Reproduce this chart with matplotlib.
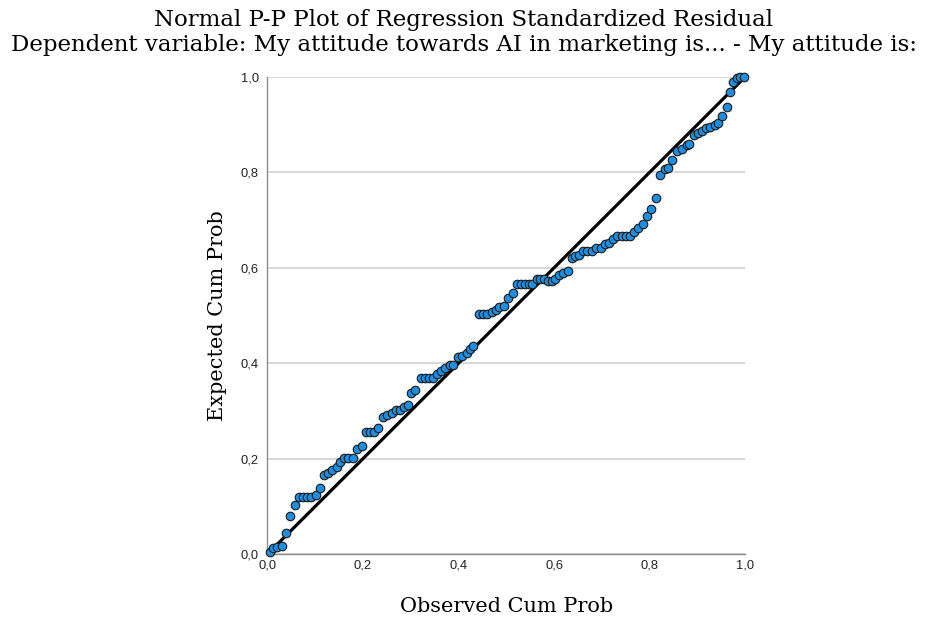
# -*- coding: utf-8 -*-
# Normal P-P plot of regression standardized residual

import matplotlib.pyplot as plt
from matplotlib.ticker import FuncFormatter

# ---------------------------------------------------------------
# DADOS

obs_cum_prob = [
    0.006, 0.013, 0.021, 0.031, 0.040, 0.048, 0.059, 0.067, 0.075, 0.084,
    0.092, 0.103, 0.111, 0.119, 0.128, 0.136, 0.146, 0.153, 0.161, 0.169,
    0.180, 0.188, 0.199, 0.207, 0.215, 0.224, 0.232, 0.243, 0.251, 0.262,
    0.270, 0.278, 0.287, 0.295,
    0.301, 0.310, 0.322, 0.331, 0.339, 0.347, 0.356, 0.364, 0.372, 0.383,
    0.389, 0.400, 0.408, 0.418, 0.425, 0.431, 0.444, 0.452, 0.460, 0.471,
    0.479, 0.485, 0.496, 0.504, 0.515, 0.523, 0.531, 0.540, 0.548, 0.554,
    0.565, 0.571, 0.579, 0.588, 0.596, 0.603, 0.611, 0.619, 0.630,
    0.638, 0.644, 0.653, 0.661, 0.669, 0.680, 0.688, 0.699, 0.707, 0.715,
    0.724, 0.732, 0.743, 0.751, 0.759, 0.768, 0.776, 0.787, 0.795, 0.803,
    0.814,
    0.822, 0.833, 0.839, 0.847, 0.858, 0.868, 0.879, 0.883, 0.893, 0.902,
    0.910, 0.918, 0.927, 0.937, 0.944, 0.952, 0.962, 0.969, 0.975, 0.983,
    0.990, 0.998,
]
exp_cum_prob = [
    0.004, 0.013, 0.015, 0.017, 0.044, 0.080, 0.103, 0.119, 0.119, 0.119,
    0.119, 0.124, 0.138, 0.166, 0.170, 0.176, 0.182, 0.193, 0.201, 0.201,
    0.201, 0.220, 0.226, 0.256, 0.256, 0.256, 0.264, 0.287, 0.291, 0.296,
    0.302, 0.302, 0.308, 0.312,
    0.338, 0.344, 0.369, 0.369, 0.369, 0.369, 0.377, 0.384, 0.390, 0.396,
    0.396, 0.413, 0.415, 0.421, 0.430, 0.436, 0.503, 0.503, 0.503, 0.507,
    0.512, 0.518, 0.520, 0.537, 0.547, 0.566, 0.566, 0.566, 0.566, 0.566,
    0.577, 0.577, 0.577, 0.572, 0.572, 0.577, 0.585, 0.589, 0.593,
    0.621, 0.625, 0.627, 0.635, 0.635, 0.635, 0.642, 0.642, 0.650, 0.652,
    0.660, 0.667, 0.667, 0.667, 0.667, 0.675, 0.683, 0.692, 0.709, 0.723,
    0.746,
    0.795, 0.807, 0.809, 0.826, 0.845, 0.849, 0.857, 0.860, 0.878, 0.883,
    0.887, 0.893, 0.895, 0.899, 0.904, 0.918, 0.937, 0.969, 0.990, 0.998,
    1.000, 1.000,
]
ref_line = [0.0, 1.0]
ticks = [0.0, 0.2, 0.4, 0.6, 0.8, 1.0]

title = ('Normal P-P Plot of Regression Standardized Residual\n'
         'Dependent variable: My attitude towards AI in marketing is... '
         '- My attitude is:')

# ---------------------------------------------------------------
# PLOT

def main():
    fig = plt.figure(figsize=(9.28, 6.2), dpi=100)
    ax = fig.add_axes([0.288, 0.106, 0.515, 0.77])

    serif = ['DejaVu Serif']

    ax.plot(ref_line, ref_line, color='black', lw=2.3, zorder=2,
            solid_capstyle='butt')
    ax.scatter(obs_cum_prob, exp_cum_prob, s=38, color='#1e8fe0',
               edgecolors='#1a1a1a', linewidths=0.8, zorder=3, clip_on=False)

    ax.set_xlim(0, 1)
    ax.set_ylim(0, 1)
    ax.set_xticks(ticks)
    ax.set_yticks(ticks)
    fmt = FuncFormatter(lambda v, _: f'{v:.1f}'.replace('.', ','))
    ax.xaxis.set_major_formatter(fmt)
    ax.yaxis.set_major_formatter(fmt)
    ax.tick_params(length=0, labelsize=9.3, labelcolor='#222222')
    ax.tick_params(axis='y', pad=6)
    ax.tick_params(axis='x', pad=4)
    for lbl in ax.get_xticklabels() + ax.get_yticklabels():
        lbl.set_family('Liberation Sans')

    ax.grid(axis='y', color='#d4d4d4', lw=1.3, zorder=0)
    ax.set_axisbelow(True)
    for side in ['top', 'right']:
        ax.spines[side].set_visible(False)
    for side in ['left', 'bottom']:
        ax.spines[side].set_color('#8c8c8c')
        ax.spines[side].set_linewidth(1.0)

    ax.set_xlabel('Observed Cum Prob', family=serif, fontsize=15,
                  labelpad=18)
    ax.set_ylabel('Expected Cum Prob', family=serif, fontsize=15,
                  labelpad=10)
    fig.text(0.5, 0.986, title, family=serif, fontsize=16.5, ha='center',
             va='top', linespacing=1.2)

    fig.savefig('out.png', dpi=100)


if __name__ == '__main__':
    main()
